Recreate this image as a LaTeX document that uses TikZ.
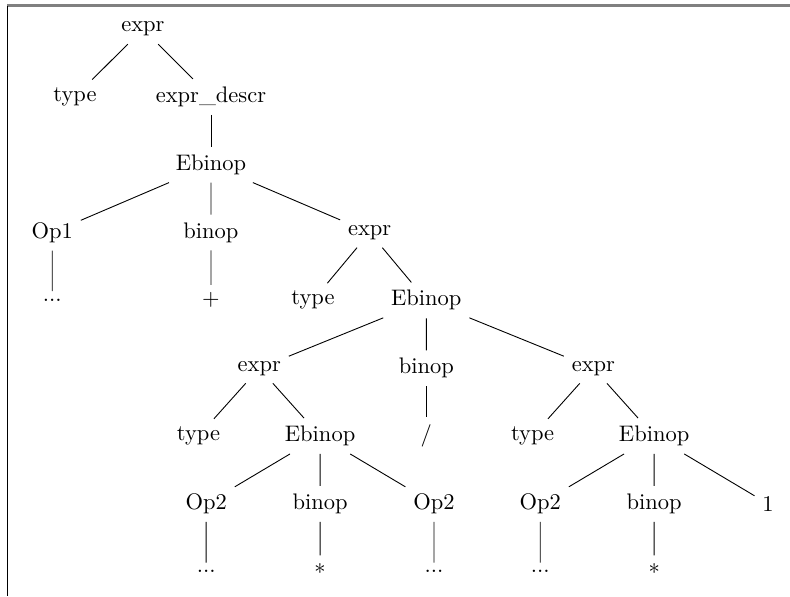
\documentclass[tikz,border=0pt]{standalone}
\usepackage{amssymb}
\usepackage{amsmath}
\usepackage{pgf,tikz}
\usetikzlibrary{arrows}
\usetikzlibrary{calc,positioning}

\begin{document}
\begin{tikzpicture}[level distance=1.06cm,
    level 1/.style={sibling distance=2.125cm},
    level 3/.style={sibling distance=2.48cm},
    level 4/.style={sibling distance=1.77cm},
    level 5/.style={sibling distance=2.61cm},
    level 6/.style={sibling distance=1.9cm},
    level 7/.style={sibling distance=1.78cm}]
    \tikzstyle{frametop}=[draw=gray, line width=0.9pt]
    \tikzstyle{frameleft}=[draw=black, line width=0.5pt]

    \useasboundingbox (-2.234,0.453) rectangle (10.11,-8.86);

    \node          (root) {expr}
    child{node      (type1) {type}}
    child{node      (descr) {expr\_descr}
        child{node      (ebinop1) {Ebinop}
            child{node      (op1) {Op1}
                child{node      (dots1) {...}}}
            child{node      (binop1) {binop}
                child{node      (plus) {+}}}
            child{node      (expr2) {expr}
                child{node      (type2) {type}}
                child{node      (ebinop2) {Ebinop}
                    child{node      (expr3) {expr}
                        child{node      (type3) {type}}
                        child{node      (ebinop3) {Ebinop}
                            child{node      (op2a) {Op2}
                                child{node      (dots2) {...}}}
                            child{node      (binop3) {binop}
                                child{node      (star1) {*}}}
                            child{node      (op2b) {Op2}
                                child{node      (dots3) {...}}}}}
                    child{node      (binop2) {binop}
                        child{node      (slash) {/}}}
                    child{node      (expr4) {expr}
                        child{node      (type4) {type}}
                        child{node      (ebinop4) {Ebinop}
                            child{node      (op2c) {Op2}
                                child{node      (dots4) {...}}}
                            child{node      (binop4) {binop}
                                child{node      (star2) {*}}}
                            child{node      (one) {1}}}}}}}};

    % frame
    \coordinate (cornerTL) at (-2.117,0.367);
    \coordinate (cornerTR) at (10.11,0.367);
    \coordinate (cornerBL) at (-2.117,-8.86);
    \draw[frametop] (cornerTL) -- (cornerTR);
    \draw[frameleft] (cornerTL) -- (cornerBL);

\end{tikzpicture}
\end{document}
